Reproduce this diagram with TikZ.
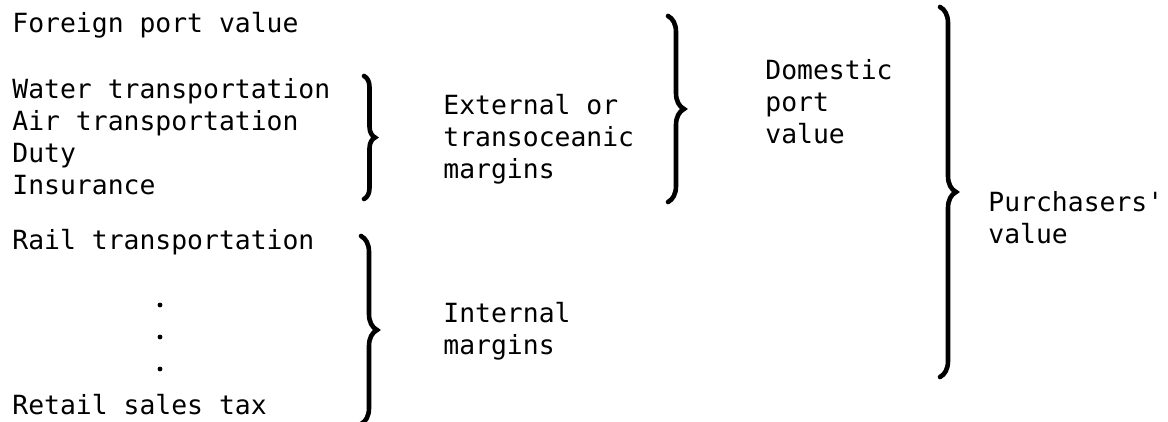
\documentclass[tikz,border=0pt]{standalone}
\usepackage{fontspec}
\setmonofont{DejaVu Sans Mono}
\usepackage{tikz}
\usetikzlibrary{
  positioning, calc, decorations.pathreplacing
}
\tikzset{
	labelnode/.style={
			anchor=base west,
			inner sep=0pt,
			text=black,
			font=\ttfamily\fontsize{13.2}{16}\selectfont
		},
	dotnode/.style={
			circle,
			fill=black,
			inner sep=0pt,
			minimum size=2.4pt
		},
	bracepath/.style={
			decorate,
			decoration={brace, amplitude=#1},
			line width=2.3pt,
			line cap=round
		},
	bracepath/.default=6pt
}

\begin{document}
\begin{tikzpicture}[x=0.5pt, y=-0.5pt]
              \useasboundingbox (0,0) rectangle (1168,422);

              % left column
              \node[labelnode] (foreign) at (12,33) {Foreign port value};
              \node[labelnode] (water) at (12,99) {Water transportation};
              \node[labelnode] (air) at (12,131) {Air transportation};
              \node[labelnode] (duty) at (12,163) {Duty};
              \node[labelnode] (insur) at (12,195) {Insurance};
              \node[labelnode] (rail) at (12,250) {Rail transportation};
              \node[dotnode] (d1) at (160,305) {};
              \node[dotnode] (d2) at (160,337) {};
              \node[dotnode] (d3) at (160,369) {};
              \node[labelnode] (retail) at (12,415) {Retail sales tax};

              % margins
              \node[labelnode] (ext1) at (443,115) {External or};
              \node[labelnode] (ext2) at (443,147) {transoceanic};
              \node[labelnode] (ext3) at (443,179) {margins};
              \node[labelnode] (int1) at (443,323) {Internal};
              \node[labelnode] (int2) at (443,355) {margins};

              % values
              \node[labelnode] (dom1) at (765,80) {Domestic};
              \node[labelnode] (dom2) at (765,112) {port};
              \node[labelnode] (dom3) at (765,144) {value};
              \node[labelnode] (pur1) at (988,212) {Purchasers'};
              \node[labelnode] (pur2) at (988,244) {value};

              % braces
              \coordinate (b1t) at (364,76);
              \coordinate (b1b) at (364,199);
              \coordinate (b2t) at (361,236);
              \coordinate (b2b) at (361,424);
              \coordinate (b3t) at (668,16);
              \coordinate (b3b) at (668,202);
              \coordinate (b4t) at (940,7);
              \coordinate (b4b) at (940,377);

              \draw[bracepath=5.5pt] (b1t) -- (b1b);
              \draw[bracepath=8pt] (b2t) -- (b2b);
              \draw[bracepath=8pt] (b3t) -- (b3b);
              \draw[bracepath=8pt] (b4t) -- (b4b);

            \end{tikzpicture}
\end{document}
